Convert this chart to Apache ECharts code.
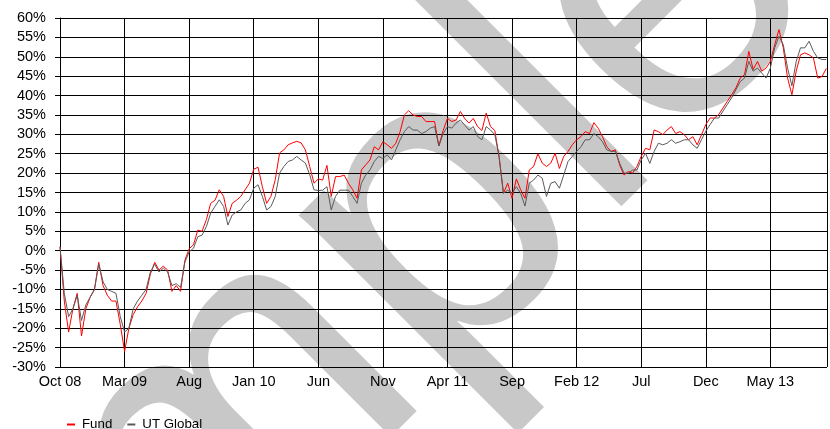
<!DOCTYPE html>
<html>
<head>
<meta charset="utf-8">
<script src="https://cdn.jsdelivr.net/npm/echarts@6/dist/echarts.min.js"></script>
<style>
html,body{margin:0;padding:0;background:#fff;}
#chart{width:830px;height:429px;}
</style>
</head>
<body>
<div id="chart"></div>
<script>
// x tick labels, one every 5 months starting Oct 2008
const tickLabels = ['Oct 08','Mar 09','Aug','Jan 10','Jun','Nov','Apr 11','Sep','Feb 12','Jul','Dec','May 13'];
// sample spacing of the series, in months
const stepMonths = 1 / 3;
// cumulative performance (%)
const fund = [
  1, -13, -21, -15, -11, -22, -15, -12, -10, -3,
  -9, -11.5, -13, -13, -19, -26, -20, -16.5, -14.5, -13,
  -11, -6, -3, -5, -4, -5, -10.5, -9, -10.5, -2.5,
  0.5, 1.5, 5.3, 5, 8, 12.2, 13, 15.7, 14, 8.8,
  12.2, 13, 14, 15.7, 17.4, 21, 21.5, 16.5, 12.2, 14,
  18.3, 25.2, 26, 27.3, 27.8, 28.2, 27.8, 26, 21.7, 17.4,
  18.5, 18.2, 22, 14, 19.1, 19.1, 19.5, 17.4, 15.7, 13.5,
  20.8, 22.1, 23.4, 26.8, 26, 28.1, 27.3, 26.4, 27.7, 30.7,
  35, 36.1, 35, 34.6, 34.6, 33.3, 33.3, 33.3, 27, 31,
  34.1, 33.3, 33.7, 35.9, 34.1, 32.9, 34.1, 32, 31, 35.5,
  32, 31, 24, 14.8, 17.4, 13.5, 18.5, 15.7, 13.5, 20.8,
  21.7, 25, 22.6, 21.7, 22.6, 25.1, 21.2, 24.3, 25.6, 27.3,
  28.6, 29.4, 30.7, 30.2, 33, 31.6, 29.4, 26.8, 25.6, 26,
  22.1, 19.5, 20.4, 20, 21.7, 24.3, 26.4, 26, 31.1, 30.7,
  29.9, 31.1, 32, 30.2, 30.7, 29.9, 28.6, 29.4, 27.3, 29.9,
  32.5, 34.2, 34.2, 35.1, 36.8, 38.5, 40.2, 42, 44.5, 45.4,
  51.4, 46.7, 48.8, 46.3, 47.1, 48.8, 53.1, 57, 52.3, 44.5,
  40.2, 46.3, 50.5, 51, 50.5, 49.7, 44.5, 44.9, 47
];
const utGlobal = [
  1, -11, -17, -15, -11.5, -18, -14, -12, -10, -3.5,
  -8, -10, -10.5, -11, -17, -21, -20, -15, -13, -11.5,
  -10, -5.5, -3.5, -5.5, -4.5, -5.5, -9, -8.5, -9.5, -3,
  -0.3, 0.6, 3.6, 4, 6.2, 9.7, 11.4, 13.1, 11.4, 6.6,
  9.2, 10, 10.5, 12.2, 13.1, 16.1, 17, 14, 10.5, 11.4,
  14, 20, 21.7, 23, 23.4, 24.3, 23.4, 22.6, 19.6, 15.7,
  15.5, 15.6, 16.5, 10.5, 14, 15.6, 15.6, 15.6, 14, 12.2,
  17.4, 19.5, 20.8, 23, 24.3, 23.8, 24.7, 23.4, 26, 28.6,
  30.7, 32, 31.1, 31.1, 30.2, 30.7, 31.6, 32, 27, 30.2,
  32, 31.6, 32.9, 33.7, 32.4, 31.1, 32, 29.4, 28.6, 32,
  31.1, 29.9, 24.3, 14.8, 15.6, 14.8, 16.5, 14.8, 11.5, 17.4,
  18.2, 19.5, 18.7, 14, 17.4, 17.8, 16.1, 19.5, 23, 24.3,
  25.6, 26.8, 28.6, 28.6, 30.2, 29.4, 28.1, 26, 25.6, 25.6,
  22.5, 20, 20, 20.8, 20.8, 23.4, 25.1, 22.5, 25.6, 27.7,
  27.3, 27.7, 28.6, 27.7, 28.1, 28.6, 28.6, 27.3, 26.4, 28.6,
  30.8, 32.5, 34.2, 34.2, 36, 37.7, 39.4, 41.5, 43.6, 44.5,
  48.8, 46.3, 47.1, 45.8, 44.5, 47.1, 52.3, 55.3, 53.1, 47.1,
  42.5, 48.8, 52.3, 52.3, 54, 51.4, 49.7, 49.3, 49.3
];
const seriesNames = ['Fund', 'UT Global'];
const watermarkText = 'sample';

const toPairs = arr => arr.map((v, i) => [i * stepMonths, v]);
const FONT = '"Liberation Sans", Arial, sans-serif';
const chart = echarts.init(document.getElementById('chart'), null, {renderer: 'canvas'});
chart.setOption({
  animation: false,
  backgroundColor: '#ffffff',
  textStyle: {fontFamily: FONT},
  graphic: [{
    type: 'text', z: -10, x: 272, y: 392, rotation: Math.PI / 4, silent: true,
    style: {text: watermarkText, font: '420px "Liberation Sans"', fill: '#c8c8c8', align: 'center', verticalAlign: 'middle'}
  }],
  grid: {left: 60, top: 18, right: -2, height: 349},
  legend: {
    data: seriesNames, left: 67, top: 418, padding: 0, icon: 'rect', itemWidth: 8, itemHeight: 2, itemGap: 15,
    textStyle: {fontSize: 13.3, color: '#000', fontFamily: FONT, padding: [0, 0, 0, 2]}
  },
  xAxis: {
    type: 'value', min: 0, max: 772 / 13, interval: 5,
    axisLine: {lineStyle: {color: '#000', width: 1}},
    axisTick: {length: 4, lineStyle: {color: '#000'}},
    axisLabel: {margin: 7, fontSize: 14.5, color: '#000', fontFamily: FONT,
      formatter: v => { const k = Math.round(v / 5); return (Math.abs(v - k * 5) < 1e-6 && tickLabels[k] !== undefined) ? tickLabels[k] : ''; }},
    splitLine: {show: true, lineStyle: {color: '#000', width: 1}}
  },
  yAxis: {
    type: 'value', min: -30, max: 60, interval: 5,
    axisLine: {show: true, lineStyle: {color: '#000', width: 1}},
    axisTick: {show: true, length: 5, lineStyle: {color: '#000'}},
    axisLabel: {margin: 14, fontSize: 14.5, color: '#000', fontFamily: FONT, formatter: '{value}%'},
    splitLine: {show: true, lineStyle: {color: '#000', width: 1}}
  },
  series: [
    {name: seriesNames[0], type: 'line', data: toPairs(fund), showSymbol: false, symbol: 'none', clip: true,
     lineStyle: {color: '#ff0000', width: 1}, itemStyle: {color: '#ff0000'}},
    {name: seriesNames[1], type: 'line', data: toPairs(utGlobal), showSymbol: false, symbol: 'none', clip: true,
     lineStyle: {color: '#5a5a5a', width: 1}, itemStyle: {color: '#5a5a5a'}}
  ]
});
</script>
</body>
</html>
